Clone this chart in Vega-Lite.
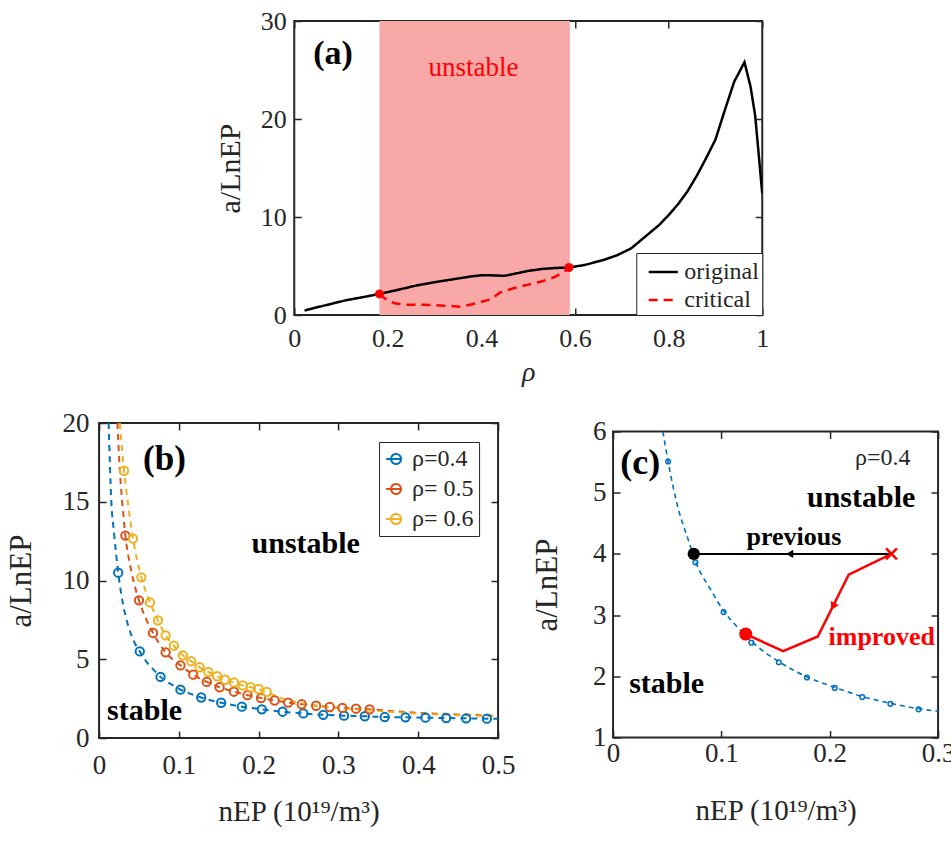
{
  "$schema": "https://vega.github.io/schema/vega-lite/v6.json",
  "background": "white",
  "padding": {"left": 4, "top": 7, "right": 0, "bottom": 0},
  "center": true,
  "spacing": 21,
  "resolve": {"scale": {"color": "independent", "strokeDash": "independent"}, "legend": {"color": "independent", "strokeDash": "independent"}},
  "config": {
    "font": "Liberation Serif",
    "view": {"stroke": "#262626", "strokeWidth": 2},
    "axis": {"domain": false, "grid": false, "tickColor": "#262626", "tickWidth": 1.5, "tickSize": -7, "labelFont": "Liberation Serif", "labelColor": "#262626", "labelFontSize": 27, "titleFont": "Liberation Serif", "titleColor": "#262626", "titleFontSize": 28, "titleFontWeight": "normal", "labelOverlap": false, "labelFlush": false},
    "legend": {"labelFont": "Liberation Serif", "labelColor": "#262626"},
    "title": {"font": "Liberation Serif"}
  },
  "vconcat": [
    {
      "width": 468, "height": 294,
      "layer": [
        {
          "data": {"values": [{"x0": 0.182, "x1": 0.589, "y0": 0, "y1": 30}]},
          "mark": {"type": "rect", "fill": "#f9a8a8", "clip": true},
          "encoding": {
            "x": {"field": "x0", "type": "quantitative", "scale": {"domain": [0, 1], "nice": false, "zero": false}, "axis": null},
            "x2": {"field": "x1"},
            "y": {"field": "y0", "type": "quantitative", "scale": {"domain": [0, 30], "nice": false, "zero": false}, "axis": null},
            "y2": {"field": "y1"}
          }
        },
        {
          "data": {"values": [
            {"series": "original", "rho": 0.022, "v": 0.45}, {"series": "original", "rho": 0.05, "v": 0.8}, {"series": "original", "rho": 0.08, "v": 1.15}, {"series": "original", "rho": 0.11, "v": 1.5}, {"series": "original", "rho": 0.15, "v": 1.85}, {"series": "original", "rho": 0.182, "v": 2.15}, {"series": "original", "rho": 0.22, "v": 2.55}, {"series": "original", "rho": 0.26, "v": 3.0}, {"series": "original", "rho": 0.30, "v": 3.35}, {"series": "original", "rho": 0.34, "v": 3.65}, {"series": "original", "rho": 0.38, "v": 3.95}, {"series": "original", "rho": 0.40, "v": 4.05}, {"series": "original", "rho": 0.42, "v": 4.05}, {"series": "original", "rho": 0.45, "v": 4.0}, {"series": "original", "rho": 0.47, "v": 4.2}, {"series": "original", "rho": 0.50, "v": 4.5}, {"series": "original", "rho": 0.53, "v": 4.7}, {"series": "original", "rho": 0.56, "v": 4.8}, {"series": "original", "rho": 0.587, "v": 4.85}, {"series": "original", "rho": 0.62, "v": 5.1}, {"series": "original", "rho": 0.66, "v": 5.6}, {"series": "original", "rho": 0.69, "v": 6.1}, {"series": "original", "rho": 0.72, "v": 6.8}, {"series": "original", "rho": 0.75, "v": 8.0}, {"series": "original", "rho": 0.78, "v": 9.2}, {"series": "original", "rho": 0.80, "v": 10.2}, {"series": "original", "rho": 0.82, "v": 11.3}, {"series": "original", "rho": 0.84, "v": 12.6}, {"series": "original", "rho": 0.86, "v": 14.2}, {"series": "original", "rho": 0.88, "v": 16.0}, {"series": "original", "rho": 0.90, "v": 17.9}, {"series": "original", "rho": 0.92, "v": 20.9}, {"series": "original", "rho": 0.94, "v": 23.8}, {"series": "original", "rho": 0.962, "v": 25.8}, {"series": "original", "rho": 0.975, "v": 23.3}, {"series": "original", "rho": 0.985, "v": 20.3}, {"series": "original", "rho": 1.0, "v": 12.4},
            {"series": "critical", "rho": 0.182, "v": 2.15}, {"series": "critical", "rho": 0.20, "v": 1.45}, {"series": "critical", "rho": 0.215, "v": 1.2}, {"series": "critical", "rho": 0.24, "v": 1.05}, {"series": "critical", "rho": 0.28, "v": 1.05}, {"series": "critical", "rho": 0.32, "v": 0.95}, {"series": "critical", "rho": 0.356, "v": 0.85}, {"series": "critical", "rho": 0.38, "v": 1.1}, {"series": "critical", "rho": 0.40, "v": 1.35}, {"series": "critical", "rho": 0.42, "v": 1.6}, {"series": "critical", "rho": 0.44, "v": 2.3}, {"series": "critical", "rho": 0.47, "v": 2.75}, {"series": "critical", "rho": 0.50, "v": 3.1}, {"series": "critical", "rho": 0.53, "v": 3.45}, {"series": "critical", "rho": 0.555, "v": 3.85}, {"series": "critical", "rho": 0.575, "v": 4.35}, {"series": "critical", "rho": 0.587, "v": 4.85}
          ]},
          "mark": {"type": "line", "strokeWidth": 2.5, "clip": true},
          "encoding": {
            "x": {"field": "rho", "type": "quantitative", "scale": {"domain": [0, 1], "nice": false, "zero": false},
                  "axis": {"values": [0, 0.2, 0.4, 0.6, 0.8, 1], "format": "~r", "title": "ρ", "titleFontStyle": "italic", "labelFontSize": 26, "labelPadding": 17, "titlePadding": 7}},
            "y": {"field": "v", "type": "quantitative", "scale": {"domain": [0, 30], "nice": false, "zero": false},
                  "axis": {"values": [0, 10, 20, 30], "format": "~r", "title": "a/LnEP", "titleFontSize": 30, "labelFontSize": 26, "labelPadding": 15, "titlePadding": 15}},
            "color": {"field": "series", "type": "nominal", "scale": {"domain": ["original", "critical"], "range": ["#000000", "#ff0000"]},
                      "legend": {"title": null, "orient": "bottom-right", "offset": 0, "padding": 3, "strokeColor": "#262626", "fillColor": "white", "labelFontSize": 24, "symbolType": "stroke", "symbolSize": 850, "symbolStrokeWidth": 2.5, "symbolOffset": 8, "labelOffset": 5, "rowPadding": -5}},
            "strokeDash": {"field": "series", "type": "nominal", "scale": {"domain": ["original", "critical"], "range": [[1, 0], [9, 6]]},
                      "legend": {"title": null, "orient": "bottom-right", "offset": 0, "padding": 3, "strokeColor": "#262626", "fillColor": "white", "labelFontSize": 24, "symbolType": "stroke", "symbolSize": 850, "symbolStrokeWidth": 2.5, "symbolOffset": 8, "labelOffset": 5, "rowPadding": -5}}
          }
        },
        {
          "data": {"values": [{"rho": 0.182, "v": 2.15}, {"rho": 0.587, "v": 4.85}]},
          "mark": {"type": "point", "filled": true, "color": "#ff0000", "size": 80, "opacity": 1},
          "encoding": {
            "x": {"field": "rho", "type": "quantitative", "scale": {"domain": [0, 1], "nice": false, "zero": false}, "axis": {"orient": "top", "values": [0, 0.2, 0.4, 0.6, 0.8, 1], "labels": false, "title": null}},
            "y": {"field": "v", "type": "quantitative", "scale": {"domain": [0, 30], "nice": false, "zero": false}, "axis": {"orient": "right", "values": [0, 10, 20, 30], "labels": false, "title": null}}
          }
        },
        {
          "data": {"values": [{"rho": 0.083, "v": 26.6, "t": "(a)"}]},
          "mark": {"type": "text", "fontSize": 34, "fontWeight": "bold", "color": "#000000", "align": "center", "baseline": "middle"},
          "encoding": {
            "x": {"field": "rho", "type": "quantitative", "scale": {"domain": [0, 1], "nice": false, "zero": false}, "axis": null},
            "y": {"field": "v", "type": "quantitative", "scale": {"domain": [0, 30], "nice": false, "zero": false}, "axis": null},
            "text": {"field": "t"}
          }
        },
        {
          "data": {"values": [{"rho": 0.383, "v": 25.2, "t": "unstable"}]},
          "mark": {"type": "text", "fontSize": 27, "color": "#ff0000", "align": "center", "baseline": "middle"},
          "encoding": {
            "x": {"field": "rho", "type": "quantitative", "scale": {"domain": [0, 1], "nice": false, "zero": false}, "axis": null},
            "y": {"field": "v", "type": "quantitative", "scale": {"domain": [0, 30], "nice": false, "zero": false}, "axis": null},
            "text": {"field": "t"}
          }
        }
      ],
      "resolve": {"axis": {"x": "independent", "y": "independent"}}
    },
    {
      "center": true,
      "spacing": 14,
      "resolve": {"scale": {"color": "independent"}, "legend": {"color": "independent"}},
      "hconcat": [
        {
          "width": 399, "height": 315,
          "title": {"text": " ", "orient": "bottom", "offset": 0, "fontSize": 8},
          "layer": [
            {
              "data": {"values": [
                {"rho": "ρ=0.4", "x": 0.012, "y": 20}, {"rho": "ρ=0.4", "x": 0.0154, "y": 15}, {"rho": "ρ=0.4", "x": 0.0188, "y": 13}, {"rho": "ρ=0.4", "x": 0.024, "y": 10.5}, {"rho": "ρ=0.4", "x": 0.03, "y": 8.5}, {"rho": "ρ=0.4", "x": 0.035, "y": 7.4}, {"rho": "ρ=0.4", "x": 0.04, "y": 6.6}, {"rho": "ρ=0.4", "x": 0.045, "y": 6.0}, {"rho": "ρ=0.4", "x": 0.051, "y": 5.5}, {"rho": "ρ=0.4", "x": 0.06, "y": 4.8}, {"rho": "ρ=0.4", "x": 0.07, "y": 4.25}, {"rho": "ρ=0.4", "x": 0.077, "y": 3.88}, {"rho": "ρ=0.4", "x": 0.09, "y": 3.42}, {"rho": "ρ=0.4", "x": 0.102, "y": 3.07}, {"rho": "ρ=0.4", "x": 0.115, "y": 2.8}, {"rho": "ρ=0.4", "x": 0.128, "y": 2.57}, {"rho": "ρ=0.4", "x": 0.153, "y": 2.24}, {"rho": "ρ=0.4", "x": 0.179, "y": 1.99}, {"rho": "ρ=0.4", "x": 0.204, "y": 1.82}, {"rho": "ρ=0.4", "x": 0.23, "y": 1.67}, {"rho": "ρ=0.4", "x": 0.256, "y": 1.56}, {"rho": "ρ=0.4", "x": 0.281, "y": 1.47}, {"rho": "ρ=0.4", "x": 0.307, "y": 1.42}, {"rho": "ρ=0.4", "x": 0.333, "y": 1.38}, {"rho": "ρ=0.4", "x": 0.358, "y": 1.33}, {"rho": "ρ=0.4", "x": 0.384, "y": 1.31}, {"rho": "ρ=0.4", "x": 0.409, "y": 1.29}, {"rho": "ρ=0.4", "x": 0.435, "y": 1.27}, {"rho": "ρ=0.4", "x": 0.46, "y": 1.25}, {"rho": "ρ=0.4", "x": 0.5, "y": 1.22},
                {"rho": "ρ= 0.5", "x": 0.023, "y": 20}, {"rho": "ρ= 0.5", "x": 0.026, "y": 17}, {"rho": "ρ= 0.5", "x": 0.029, "y": 15}, {"rho": "ρ= 0.5", "x": 0.033, "y": 12.85}, {"rho": "ρ= 0.5", "x": 0.04, "y": 10.7}, {"rho": "ρ= 0.5", "x": 0.045, "y": 9.6}, {"rho": "ρ= 0.5", "x": 0.05, "y": 8.74}, {"rho": "ρ= 0.5", "x": 0.0676, "y": 6.67}, {"rho": "ρ= 0.5", "x": 0.0834, "y": 5.44}, {"rho": "ρ= 0.5", "x": 0.102, "y": 4.61}, {"rho": "ρ= 0.5", "x": 0.118, "y": 4.02}, {"rho": "ρ= 0.5", "x": 0.135, "y": 3.56}, {"rho": "ρ= 0.5", "x": 0.151, "y": 3.22}, {"rho": "ρ= 0.5", "x": 0.169, "y": 2.94}, {"rho": "ρ= 0.5", "x": 0.186, "y": 2.72}, {"rho": "ρ= 0.5", "x": 0.203, "y": 2.54}, {"rho": "ρ= 0.5", "x": 0.22, "y": 2.38}, {"rho": "ρ= 0.5", "x": 0.237, "y": 2.25}, {"rho": "ρ= 0.5", "x": 0.254, "y": 2.14}, {"rho": "ρ= 0.5", "x": 0.272, "y": 2.05}, {"rho": "ρ= 0.5", "x": 0.289, "y": 1.97}, {"rho": "ρ= 0.5", "x": 0.305, "y": 1.91}, {"rho": "ρ= 0.5", "x": 0.322, "y": 1.86}, {"rho": "ρ= 0.5", "x": 0.339, "y": 1.82}, {"rho": "ρ= 0.5", "x": 0.37, "y": 1.7}, {"rho": "ρ= 0.5", "x": 0.4, "y": 1.6}, {"rho": "ρ= 0.5", "x": 0.45, "y": 1.5}, {"rho": "ρ= 0.5", "x": 0.5, "y": 1.42},
                {"rho": "ρ= 0.6", "x": 0.026, "y": 20}, {"rho": "ρ= 0.6", "x": 0.0313, "y": 16.97}, {"rho": "ρ= 0.6", "x": 0.037, "y": 14.6}, {"rho": "ρ= 0.6", "x": 0.0425, "y": 12.66}, {"rho": "ρ= 0.6", "x": 0.053, "y": 10.2}, {"rho": "ρ= 0.6", "x": 0.0638, "y": 8.61}, {"rho": "ρ= 0.6", "x": 0.0738, "y": 7.47}, {"rho": "ρ= 0.6", "x": 0.0834, "y": 6.52}, {"rho": "ρ= 0.6", "x": 0.0938, "y": 5.86}, {"rho": "ρ= 0.6", "x": 0.105, "y": 5.25}, {"rho": "ρ= 0.6", "x": 0.1155, "y": 4.87}, {"rho": "ρ= 0.6", "x": 0.126, "y": 4.49}, {"rho": "ρ= 0.6", "x": 0.137, "y": 4.19}, {"rho": "ρ= 0.6", "x": 0.148, "y": 3.92}, {"rho": "ρ= 0.6", "x": 0.158, "y": 3.7}, {"rho": "ρ= 0.6", "x": 0.169, "y": 3.53}, {"rho": "ρ= 0.6", "x": 0.18, "y": 3.34}, {"rho": "ρ= 0.6", "x": 0.19, "y": 3.22}, {"rho": "ρ= 0.6", "x": 0.2, "y": 3.11}, {"rho": "ρ= 0.6", "x": 0.21, "y": 2.92}, {"rho": "ρ= 0.6", "x": 0.23, "y": 2.5}, {"rho": "ρ= 0.6", "x": 0.25, "y": 2.25}, {"rho": "ρ= 0.6", "x": 0.28, "y": 2.0}, {"rho": "ρ= 0.6", "x": 0.3, "y": 1.9}, {"rho": "ρ= 0.6", "x": 0.34, "y": 1.75}, {"rho": "ρ= 0.6", "x": 0.4, "y": 1.55}, {"rho": "ρ= 0.6", "x": 0.45, "y": 1.45}, {"rho": "ρ= 0.6", "x": 0.5, "y": 1.38}
              ]},
              "mark": {"type": "line", "strokeWidth": 2, "strokeDash": [6, 5], "interpolate": "monotone", "clip": true},
              "encoding": {
                "x": {"field": "x", "type": "quantitative", "scale": {"domain": [0, 0.5], "nice": false, "zero": false},
                      "axis": {"values": [0, 0.1, 0.2, 0.3, 0.4, 0.5], "format": "~r", "title": "nEP (10¹⁹/m³)", "titleFontSize": 29, "labelPadding": 21, "titlePadding": 19}},
                "y": {"field": "y", "type": "quantitative", "scale": {"domain": [0, 20], "nice": false, "zero": false},
                      "axis": {"values": [0, 5, 10, 15, 20], "format": "~r", "title": "a/LnEP", "titleFontSize": 31, "labelPadding": 17, "titlePadding": 25}},
                "color": {"field": "rho", "type": "nominal", "scale": {"domain": ["ρ=0.4", "ρ= 0.5", "ρ= 0.6"], "range": ["#0072BD", "#D95319", "#EDB120"]},
                          "legend": {"title": null, "orient": "top-right", "offset": 19, "padding": 5, "rowPadding": 6, "labelFontSize": 24, "strokeColor": "#262626", "fillColor": "white", "symbolType": "M-1,0L0.5,0M0.5,0A0.5,0.5,0,1,1,-0.5,0A0.5,0.5,0,1,1,0.5,0", "symbolSize": 400, "symbolStrokeWidth": 2, "symbolDash": [1, 0], "symbolFillColor": "transparent", "labelOffset": 4}}
              }
            },
            {
              "data": {"values": [
                {"rho": "ρ=0.4", "x": 0.024, "y": 10.5}, {"rho": "ρ=0.4", "x": 0.051, "y": 5.5}, {"rho": "ρ=0.4", "x": 0.077, "y": 3.88}, {"rho": "ρ=0.4", "x": 0.102, "y": 3.07}, {"rho": "ρ=0.4", "x": 0.128, "y": 2.57}, {"rho": "ρ=0.4", "x": 0.153, "y": 2.24}, {"rho": "ρ=0.4", "x": 0.179, "y": 1.99}, {"rho": "ρ=0.4", "x": 0.204, "y": 1.82}, {"rho": "ρ=0.4", "x": 0.23, "y": 1.67}, {"rho": "ρ=0.4", "x": 0.256, "y": 1.56}, {"rho": "ρ=0.4", "x": 0.281, "y": 1.47}, {"rho": "ρ=0.4", "x": 0.307, "y": 1.42}, {"rho": "ρ=0.4", "x": 0.333, "y": 1.38}, {"rho": "ρ=0.4", "x": 0.358, "y": 1.33}, {"rho": "ρ=0.4", "x": 0.384, "y": 1.31}, {"rho": "ρ=0.4", "x": 0.409, "y": 1.29}, {"rho": "ρ=0.4", "x": 0.435, "y": 1.27}, {"rho": "ρ=0.4", "x": 0.46, "y": 1.25}, {"rho": "ρ=0.4", "x": 0.486, "y": 1.23},
                {"rho": "ρ= 0.5", "x": 0.033, "y": 12.85}, {"rho": "ρ= 0.5", "x": 0.05, "y": 8.74}, {"rho": "ρ= 0.5", "x": 0.0676, "y": 6.67}, {"rho": "ρ= 0.5", "x": 0.0834, "y": 5.44}, {"rho": "ρ= 0.5", "x": 0.102, "y": 4.61}, {"rho": "ρ= 0.5", "x": 0.118, "y": 4.02}, {"rho": "ρ= 0.5", "x": 0.135, "y": 3.56}, {"rho": "ρ= 0.5", "x": 0.151, "y": 3.22}, {"rho": "ρ= 0.5", "x": 0.169, "y": 2.94}, {"rho": "ρ= 0.5", "x": 0.186, "y": 2.72}, {"rho": "ρ= 0.5", "x": 0.203, "y": 2.54}, {"rho": "ρ= 0.5", "x": 0.22, "y": 2.38}, {"rho": "ρ= 0.5", "x": 0.237, "y": 2.25}, {"rho": "ρ= 0.5", "x": 0.254, "y": 2.14}, {"rho": "ρ= 0.5", "x": 0.272, "y": 2.05}, {"rho": "ρ= 0.5", "x": 0.289, "y": 1.97}, {"rho": "ρ= 0.5", "x": 0.305, "y": 1.91}, {"rho": "ρ= 0.5", "x": 0.322, "y": 1.86}, {"rho": "ρ= 0.5", "x": 0.339, "y": 1.82},
                {"rho": "ρ= 0.6", "x": 0.0313, "y": 16.97}, {"rho": "ρ= 0.6", "x": 0.0425, "y": 12.66}, {"rho": "ρ= 0.6", "x": 0.053, "y": 10.2}, {"rho": "ρ= 0.6", "x": 0.0638, "y": 8.61}, {"rho": "ρ= 0.6", "x": 0.0738, "y": 7.47}, {"rho": "ρ= 0.6", "x": 0.0834, "y": 6.52}, {"rho": "ρ= 0.6", "x": 0.0938, "y": 5.86}, {"rho": "ρ= 0.6", "x": 0.105, "y": 5.25}, {"rho": "ρ= 0.6", "x": 0.1155, "y": 4.87}, {"rho": "ρ= 0.6", "x": 0.126, "y": 4.49}, {"rho": "ρ= 0.6", "x": 0.137, "y": 4.19}, {"rho": "ρ= 0.6", "x": 0.148, "y": 3.92}, {"rho": "ρ= 0.6", "x": 0.158, "y": 3.7}, {"rho": "ρ= 0.6", "x": 0.169, "y": 3.53}, {"rho": "ρ= 0.6", "x": 0.18, "y": 3.34}, {"rho": "ρ= 0.6", "x": 0.19, "y": 3.22}, {"rho": "ρ= 0.6", "x": 0.2, "y": 3.11}, {"rho": "ρ= 0.6", "x": 0.21, "y": 2.92}
              ]},
              "mark": {"type": "point", "filled": false, "strokeWidth": 2, "size": 70, "opacity": 1, "clip": true},
              "encoding": {
                "x": {"field": "x", "type": "quantitative", "scale": {"domain": [0, 0.5], "nice": false, "zero": false}, "axis": {"orient": "top", "values": [0, 0.1, 0.2, 0.3, 0.4, 0.5], "labels": false, "title": null}},
                "y": {"field": "y", "type": "quantitative", "scale": {"domain": [0, 20], "nice": false, "zero": false}, "axis": {"orient": "right", "values": [0, 5, 10, 15, 20], "labels": false, "title": null}},
                "color": {"field": "rho", "type": "nominal", "scale": {"domain": ["ρ=0.4", "ρ= 0.5", "ρ= 0.6"], "range": ["#0072BD", "#D95319", "#EDB120"]},
                          "legend": {"title": null, "orient": "top-right", "offset": 19, "padding": 5, "rowPadding": 6, "labelFontSize": 24, "strokeColor": "#262626", "fillColor": "white", "symbolType": "M-1,0L0.5,0M0.5,0A0.5,0.5,0,1,1,-0.5,0A0.5,0.5,0,1,1,0.5,0", "symbolSize": 400, "symbolStrokeWidth": 2, "symbolDash": [1, 0], "symbolFillColor": "transparent", "labelOffset": 4}}
              }
            },
            {
              "data": {"values": [{"x": 0.082, "y": 17.7, "t": "(b)"}]},
              "mark": {"type": "text", "fontSize": 35, "fontWeight": "bold", "color": "#000000", "align": "center", "baseline": "middle"},
              "encoding": {
                "x": {"field": "x", "type": "quantitative", "scale": {"domain": [0, 0.5], "nice": false, "zero": false}, "axis": null},
                "y": {"field": "y", "type": "quantitative", "scale": {"domain": [0, 20], "nice": false, "zero": false}, "axis": null},
                "text": {"field": "t"}
              }
            },
            {
              "data": {"values": [{"x": 0.259, "y": 12.3, "t": "unstable"}, {"x": 0.057, "y": 1.7, "t": "stable"}]},
              "mark": {"type": "text", "fontSize": 30, "fontWeight": "bold", "color": "#000000", "align": "center", "baseline": "middle"},
              "encoding": {
                "x": {"field": "x", "type": "quantitative", "scale": {"domain": [0, 0.5], "nice": false, "zero": false}, "axis": null},
                "y": {"field": "y", "type": "quantitative", "scale": {"domain": [0, 20], "nice": false, "zero": false}, "axis": null},
                "text": {"field": "t"}
              }
            }
          ],
          "resolve": {"axis": {"x": "independent", "y": "independent"}}
        },
        {
          "width": 325, "height": 306,
          "title": {"text": " ", "orient": "right", "offset": 7, "fontSize": 2},
          "layer": [
            {
              "data": {"values": [{"x": 0.046, "y": 6.0}, {"x": 0.0508, "y": 5.51}, {"x": 0.06, "y": 4.75}, {"x": 0.07, "y": 4.2}, {"x": 0.076, "y": 3.88}, {"x": 0.09, "y": 3.42}, {"x": 0.102, "y": 3.07}, {"x": 0.115, "y": 2.8}, {"x": 0.1277, "y": 2.57}, {"x": 0.153, "y": 2.24}, {"x": 0.179, "y": 1.99}, {"x": 0.2046, "y": 1.82}, {"x": 0.23, "y": 1.67}, {"x": 0.256, "y": 1.56}, {"x": 0.282, "y": 1.47}, {"x": 0.3, "y": 1.43}]},
              "mark": {"type": "line", "color": "#0072BD", "strokeWidth": 1.6, "strokeDash": [5, 4], "interpolate": "monotone", "clip": true},
              "encoding": {
                "x": {"field": "x", "type": "quantitative", "scale": {"domain": [0, 0.3], "nice": false, "zero": false},
                      "axis": {"values": [0, 0.1, 0.2, 0.3], "format": "~r", "title": "nEP (10¹⁹/m³)", "titleFontSize": 29, "labelPadding": 10, "titlePadding": 30}},
                "y": {"field": "y", "type": "quantitative", "scale": {"domain": [1, 6], "nice": false, "zero": false},
                      "axis": {"values": [1, 2, 3, 4, 5, 6], "format": "~r", "title": "a/LnEP", "titleFontSize": 31, "labelPadding": 14, "titlePadding": 29}}
              }
            },
            {
              "data": {"values": [{"x": 0.0508, "y": 5.51}, {"x": 0.076, "y": 3.86}, {"x": 0.102, "y": 3.05}, {"x": 0.1277, "y": 2.55}, {"x": 0.153, "y": 2.23}, {"x": 0.179, "y": 1.98}, {"x": 0.2046, "y": 1.81}, {"x": 0.23, "y": 1.66}, {"x": 0.256, "y": 1.55}, {"x": 0.282, "y": 1.46}]},
              "mark": {"type": "point", "filled": false, "color": "#0072BD", "strokeWidth": 1.5, "size": 22, "opacity": 1, "clip": true},
              "encoding": {
                "x": {"field": "x", "type": "quantitative", "scale": {"domain": [0, 0.3], "nice": false, "zero": false}, "axis": {"orient": "top", "values": [0, 0.1, 0.2, 0.3], "labels": false, "title": null}},
                "y": {"field": "y", "type": "quantitative", "scale": {"domain": [1, 6], "nice": false, "zero": false}, "axis": {"orient": "right", "values": [1, 2, 3, 4, 5, 6], "labels": false, "title": null}}
              }
            },
            {
              "data": {"values": [{"x": 0.257, "y": 4.0}, {"x": 0.0745, "y": 4.0}]},
              "mark": {"type": "line", "color": "#000000", "strokeWidth": 2},
              "encoding": {
                "x": {"field": "x", "type": "quantitative", "scale": {"domain": [0, 0.3], "nice": false, "zero": false}, "axis": null},
                "y": {"field": "y", "type": "quantitative", "scale": {"domain": [1, 6], "nice": false, "zero": false}, "axis": null}
              }
            },
            {
              "data": {"values": [{"k": 1, "x": 0.257, "y": 4.0}, {"k": 2, "x": 0.2175, "y": 3.66}, {"k": 3, "x": 0.189, "y": 2.65}, {"k": 4, "x": 0.157, "y": 2.41}, {"k": 5, "x": 0.1225, "y": 2.69}]},
              "mark": {"type": "line", "color": "#ff0000", "strokeWidth": 2.5},
              "encoding": {
                "x": {"field": "x", "type": "quantitative", "scale": {"domain": [0, 0.3], "nice": false, "zero": false}, "axis": null},
                "y": {"field": "y", "type": "quantitative", "scale": {"domain": [1, 6], "nice": false, "zero": false}, "axis": null},
                "order": {"field": "k", "type": "quantitative"}
              }
            },
            {
              "data": {"values": [{"x": 0.0745, "y": 4.0}]},
              "mark": {"type": "point", "filled": true, "color": "#000000", "size": 150, "opacity": 1},
              "encoding": {
                "x": {"field": "x", "type": "quantitative", "scale": {"domain": [0, 0.3], "nice": false, "zero": false}, "axis": null},
                "y": {"field": "y", "type": "quantitative", "scale": {"domain": [1, 6], "nice": false, "zero": false}, "axis": null}
              }
            },
            {
              "data": {"values": [{"x": 0.1225, "y": 2.69}]},
              "mark": {"type": "point", "filled": true, "color": "#ff0000", "size": 170, "opacity": 1},
              "encoding": {
                "x": {"field": "x", "type": "quantitative", "scale": {"domain": [0, 0.3], "nice": false, "zero": false}, "axis": null},
                "y": {"field": "y", "type": "quantitative", "scale": {"domain": [1, 6], "nice": false, "zero": false}, "axis": null}
              }
            },
            {
              "data": {"values": [{"x": 0.257, "y": 4.0}]},
              "mark": {"type": "point", "shape": "M-1,-1L1,1M1,-1L-1,1", "filled": false, "color": "#ff0000", "strokeWidth": 2.5, "size": 120, "opacity": 1},
              "encoding": {
                "x": {"field": "x", "type": "quantitative", "scale": {"domain": [0, 0.3], "nice": false, "zero": false}, "axis": null},
                "y": {"field": "y", "type": "quantitative", "scale": {"domain": [1, 6], "nice": false, "zero": false}, "axis": null}
              }
            },
            {
              "data": {"values": [{"x": 0.163, "y": 4.0}]},
              "mark": {"type": "point", "shape": "triangle-left", "filled": true, "color": "#000000", "size": 70, "opacity": 1},
              "encoding": {
                "x": {"field": "x", "type": "quantitative", "scale": {"domain": [0, 0.3], "nice": false, "zero": false}, "axis": null},
                "y": {"field": "y", "type": "quantitative", "scale": {"domain": [1, 6], "nice": false, "zero": false}, "axis": null}
              }
            },
            {
              "data": {"values": [{"x": 0.203, "y": 3.14}]},
              "mark": {"type": "point", "shape": "triangle-down", "angle": 26, "filled": true, "color": "#ff0000", "size": 80, "opacity": 1},
              "encoding": {
                "x": {"field": "x", "type": "quantitative", "scale": {"domain": [0, 0.3], "nice": false, "zero": false}, "axis": null},
                "y": {"field": "y", "type": "quantitative", "scale": {"domain": [1, 6], "nice": false, "zero": false}, "axis": null}
              }
            },
            {
              "data": {"values": [{"x": 0.025, "y": 5.48, "t": "(c)"}]},
              "mark": {"type": "text", "fontSize": 36, "fontWeight": "bold", "color": "#000000", "align": "center", "baseline": "middle"},
              "encoding": {
                "x": {"field": "x", "type": "quantitative", "scale": {"domain": [0, 0.3], "nice": false, "zero": false}, "axis": null},
                "y": {"field": "y", "type": "quantitative", "scale": {"domain": [1, 6], "nice": false, "zero": false}, "axis": null},
                "text": {"field": "t"}
              }
            },
            {
              "data": {"values": [{"x": 0.229, "y": 4.92, "t": "unstable"}, {"x": 0.0495, "y": 1.87, "t": "stable"}]},
              "mark": {"type": "text", "fontSize": 30, "fontWeight": "bold", "color": "#000000", "align": "center", "baseline": "middle"},
              "encoding": {
                "x": {"field": "x", "type": "quantitative", "scale": {"domain": [0, 0.3], "nice": false, "zero": false}, "axis": null},
                "y": {"field": "y", "type": "quantitative", "scale": {"domain": [1, 6], "nice": false, "zero": false}, "axis": null},
                "text": {"field": "t"}
              }
            },
            {
              "data": {"values": [{"x": 0.167, "y": 4.28, "t": "previous"}]},
              "mark": {"type": "text", "fontSize": 26, "fontWeight": "bold", "color": "#000000", "align": "center", "baseline": "middle"},
              "encoding": {
                "x": {"field": "x", "type": "quantitative", "scale": {"domain": [0, 0.3], "nice": false, "zero": false}, "axis": null},
                "y": {"field": "y", "type": "quantitative", "scale": {"domain": [1, 6], "nice": false, "zero": false}, "axis": null},
                "text": {"field": "t"}
              }
            },
            {
              "data": {"values": [{"x": 0.248, "y": 2.65, "t": "improved"}]},
              "mark": {"type": "text", "fontSize": 26, "fontWeight": "bold", "color": "#ff0000", "align": "center", "baseline": "middle"},
              "encoding": {
                "x": {"field": "x", "type": "quantitative", "scale": {"domain": [0, 0.3], "nice": false, "zero": false}, "axis": null},
                "y": {"field": "y", "type": "quantitative", "scale": {"domain": [1, 6], "nice": false, "zero": false}, "axis": null},
                "text": {"field": "t"}
              }
            },
            {
              "data": {"values": [{"x": 0.249, "y": 5.56, "t": "ρ=0.4"}]},
              "mark": {"type": "text", "fontSize": 24, "color": "#262626", "align": "center", "baseline": "middle"},
              "encoding": {
                "x": {"field": "x", "type": "quantitative", "scale": {"domain": [0, 0.3], "nice": false, "zero": false}, "axis": null},
                "y": {"field": "y", "type": "quantitative", "scale": {"domain": [1, 6], "nice": false, "zero": false}, "axis": null},
                "text": {"field": "t"}
              }
            }
          ],
          "resolve": {"axis": {"x": "independent", "y": "independent"}}
        }
      ]
    }
  ]
}
